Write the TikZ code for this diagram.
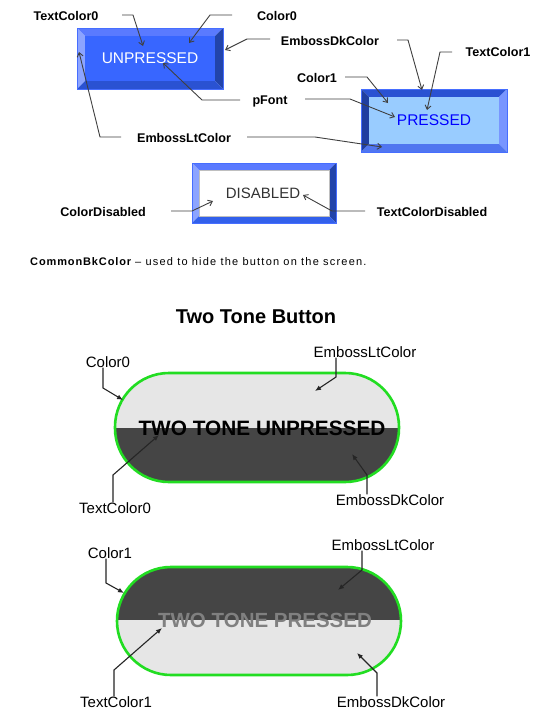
\documentclass[tikz,border=0pt]{standalone}
\usepackage{fontspec}
\setmainfont{Liberation Sans}
\usetikzlibrary{arrows.meta}
\definecolor{leadc}{HTML}{404040}
\definecolor{greenb}{HTML}{22DD22}
\definecolor{ltgray}{HTML}{E6E6E6}
\definecolor{dkgray}{HTML}{454545}
\definecolor{bvA}{RGB}{90,122,255}
\definecolor{bvB}{RGB}{140,164,255}
\definecolor{bvC}{RGB}{34,68,170}
\definecolor{bvD}{RGB}{42,82,210}
\definecolor{bvE}{RGB}{32,62,160}
\definecolor{bvF}{RGB}{120,150,255}
\definecolor{bvG}{RGB}{80,118,240}
\definecolor{bvH}{RGB}{50,96,235}
\definecolor{faceU}{RGB}{56,102,255}
\definecolor{faceP}{RGB}{153,204,255}
\definecolor{edgeB}{RGB}{70,110,255}
\definecolor{pblue}{RGB}{0,0,255}
\begin{document}
\begin{tikzpicture}[x=1pt,y=-1pt,
  lbl/.style={font=\bfseries\fontsize{12.6}{14}\selectfont, inner sep=0pt},
  tlbl/.style={font=\fontsize{15}{17}\selectfont, inner sep=0pt},
  lead/.style={draw=leadc, line width=0.9pt, -{Straight Barb[length=4pt,width=6pt]}},
  tlead/.style={draw=black!85, line width=1.1pt, -{Latex[length=6pt,width=5pt]}},
  edge/.style={draw=edgeB, line width=0.8pt},
  pill/.style={rounded corners=54pt}]
\useasboundingbox (0,0) rectangle (543,723);
\fill[white] (0,0) rectangle (543,723);

% ---------- unpressed button ----------
\fill[bvA] (77,28) -- (223,28) -- (215,36) -- (85,36) -- cycle;
\fill[bvB] (77,28) -- (85,36) -- (85,81) -- (77,89) -- cycle;
\fill[bvC] (223,28) -- (215,36) -- (215,81) -- (223,89) -- cycle;
\fill[bvD] (77,89) -- (85,81) -- (215,81) -- (223,89) -- cycle;
\fill[faceU] (85,36) rectangle (215,81);
\draw[edge] (77,28) rectangle (223,89);
\node[font=\fontsize{15.5}{17}\selectfont, text=white, inner sep=0pt] (unp) at (150,58) {UNPRESSED};

% ---------- pressed button ----------
\fill[bvD] (361,89) -- (507,89) -- (499,97) -- (369,97) -- cycle;
\fill[bvE] (361,89) -- (369,97) -- (369,144) -- (361,152) -- cycle;
\fill[bvF] (507,89) -- (499,97) -- (499,144) -- (507,152) -- cycle;
\fill[bvG] (361,152) -- (369,144) -- (499,144) -- (507,152) -- cycle;
\fill[faceP] (369,97) rectangle (499,144);
\draw[edge] (361,89) rectangle (507,152);
\node[font=\fontsize{15.5}{17}\selectfont, text=pblue, inner sep=0pt] (prs) at (434,120) {PRESSED};

% ---------- disabled button ----------
\fill[bvA] (192,163) -- (336,163) -- (329,170) -- (199,170) -- cycle;
\fill[bvB] (192,163) -- (199,170) -- (199,216) -- (192,223) -- cycle;
\fill[bvC] (336,163) -- (329,170) -- (329,216) -- (336,223) -- cycle;
\fill[bvH] (192,223) -- (199,216) -- (329,216) -- (336,223) -- cycle;
\filldraw[fill=white, draw=black!25, line width=0.6pt] (199,170) rectangle (329,216);
\draw[edge] (192,163) rectangle (336,223);
\node[font=\fontsize{15}{17}\selectfont, text=black!80, inner sep=0pt] (dis) at (263,193) {DISABLED};

% ---------- top labels ----------
\node[lbl] (tc0) at (66,16) {TextColor0};
\node[lbl] (c0) at (277,16) {Color0};
\node[lbl] (edk) at (330,41) {EmbossDkColor};
\node[lbl] (tc1) at (498,52) {TextColor1};
\node[lbl] (c1) at (317,78) {Color1};
\node[lbl] (pf) at (270,101) {pFont};
\node[lbl] (elt) at (184,138) {EmbossLtColor};
\node[lbl] (cdis) at (103,212) {ColorDisabled};
\node[lbl] (tcdis) at (432,212) {TextColorDisabled};

\coordinate (a1) at (122,15); \coordinate (t1) at (143,46);
\coordinate (a2) at (232,15); \coordinate (t2) at (189,43);
\coordinate (a3) at (270,39); \coordinate (t3) at (225,50);
\coordinate (a4) at (397,40); \coordinate (t4) at (422,90);
\coordinate (a5) at (452,52); \coordinate (t5) at (427,110);
\coordinate (a6) at (345,77); \coordinate (t6) at (388,103);
\coordinate (a7) at (240,100); \coordinate (t7) at (163,63);
\coordinate (a8) at (305,99); \coordinate (t8) at (395,117);
\coordinate (a9) at (121,137); \coordinate (t9) at (79,52);
\coordinate (a10) at (247,137); \coordinate (t10) at (382,147);
\coordinate (a11) at (171,211); \coordinate (t11) at (213,201);
\coordinate (a12) at (365,211); \coordinate (t12) at (303,195);

\draw[lead] (a1) -- ++(11,0) -- (t1);
\draw[lead] (a2) -- ++(-22,0) -- (t2);
\draw[lead] (a3) -- ++(-23,0) -- (t3);
\draw[lead] (a4) -- ++(11,0) -- (t4);
\draw[lead] (a5) -- ++(-12,0) -- (t5);
\draw[lead] (a6) -- ++(22,0) -- (t6);
\draw[lead] (a7) -- ++(-38,0) -- (t7);
\draw[lead] (a8) -- ++(45,0) -- (t8);
\draw[lead] (a9) -- ++(-21,0) -- (t9);
\draw[lead] (a10) -- ++(68,0) -- (t10);
\draw[lead] (a11) -- ++(21,0) -- (t11);
\draw[lead] (a12) -- ++(-33,0) -- (t12);

% ---------- note ----------
\node[anchor=west, inner sep=0pt, font=\fontsize{11}{13}\selectfont] (note) at (30,262)
  {{\addfontfeatures{LetterSpace=8}\textbf{CommonBkColor}} {\addfontfeatures{LetterSpace=11}– used to hide the button on the screen.}};

% ---------- two tone ----------
\node[font=\bfseries\fontsize{20}{24}\selectfont, inner sep=0pt] (title) at (256,317) {Two Tone Button};

% unpressed pill
\begin{scope}
  \clip[pill] (115,373) rectangle (399,482);
  \fill[ltgray] (115,373) rectangle (399,428);
  \fill[dkgray] (115,428) rectangle (399,482);
\end{scope}
\draw[greenb, line width=2.6pt, pill] (115,373) rectangle (399,482);
\node[font=\bfseries\fontsize{20.8}{23}\selectfont, inner sep=0pt] (ttu) at (262,428) {TWO TONE UNPRESSED};

% pressed pill
\begin{scope}
  \clip[pill] (117,567) rectangle (401,675);
  \fill[dkgray] (117,567) rectangle (401,620);
  \fill[ltgray] (117,620) rectangle (401,675);
\end{scope}
\draw[greenb, line width=2.6pt, pill] (117,567) rectangle (401,675);
\node[font=\bfseries\fontsize{20.5}{23}\selectfont, text=black!50, inner sep=0pt] (ttp) at (265,620) {TWO TONE PRESSED};

% two tone labels
\node[tlbl] (uc0) at (108,362) {Color0};
\node[tlbl] (uelt) at (365,352) {EmbossLtColor};
\node[tlbl] (utc0) at (115,508) {TextColor0};
\node[tlbl] (uedk) at (390,500) {EmbossDkColor};
\node[tlbl] (pc1) at (110,553) {Color1};
\node[tlbl] (pelt) at (383,545) {EmbossLtColor};
\node[tlbl] (ptc1) at (116,702) {TextColor1};
\node[tlbl] (pedk) at (391,702) {EmbossDkColor};

\draw[tlead] (uc0.south -| 103,0) -- (103,388) -- (123,400);
\draw[tlead] (uelt.south -| 336,0) -- (336,377) -- (315,391);
\draw[tlead] (utc0.north -| 113,0) -- (113,475) -- (159,435);
\draw[tlead] (uedk.north -| 367,0) -- (367,475) -- (352,454);
\draw[tlead] (pc1.south -| 106,0) -- (106,583) -- (124,593);
\draw[tlead] (pelt.south -| 362,0) -- (362,570) -- (338,590);
\draw[tlead] (ptc1.north -| 114,0) -- (114,670) -- (162,628);
\draw[tlead] (pedk.north -| 377,0) -- (377,673) -- (357,653);
\end{tikzpicture}
\end{document}
